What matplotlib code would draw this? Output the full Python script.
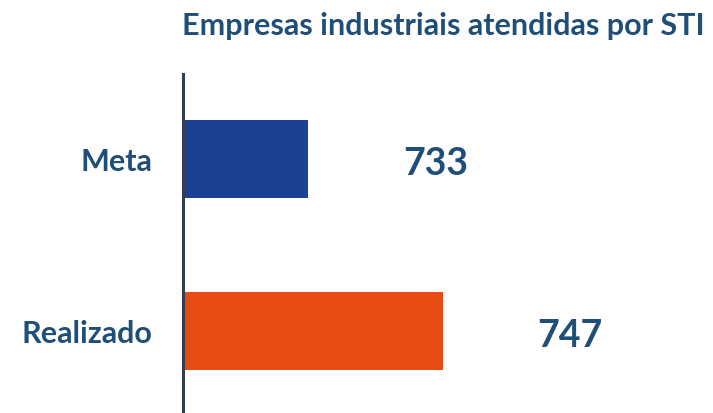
import matplotlib.pyplot as plt

categorias = ["Realizado", "Meta"]
valores = [747, 733]
cores = ["#E84C12", "#1A4192"]

plt.rcParams['font.family'] = ['Lato', 'DejaVu Sans']
texto = "#1F4E79"

fig = plt.figure(figsize=(7.13, 4.14), dpi=100)
ax = fig.add_axes([183/713, 0, 1 - 183/713, 339/414])

y = range(len(categorias))
ax.barh(y, valores, height=0.45, color=cores, left=0)
ax.set_xlim(720, 775)
ax.set_ylim(-0.477, 1.494)

for i, v in zip(y, valores):
    ax.annotate(str(v), (v, i), xytext=(127, -4), textcoords='offset pixels',
                ha='center', va='center', fontsize=27, fontweight='bold', color=texto)

ax.set_yticks(list(y))
ax.set_yticklabels(categorias, fontsize=22, fontweight='bold', color=texto)
ax.tick_params(axis='y', length=0, pad=22)
ax.set_xticks([])
for s in ['top', 'right', 'bottom']:
    ax.spines[s].set_visible(False)
ax.spines['left'].set_color('#333F50')
ax.spines['left'].set_linewidth(2.2)

fig.text(443/713, 1 - 26/414, "Empresas industriais atendidas por STI", ha='center', va='center',
         fontsize=22, fontweight='bold', color=texto)

fig.savefig("out.png", dpi=100)
